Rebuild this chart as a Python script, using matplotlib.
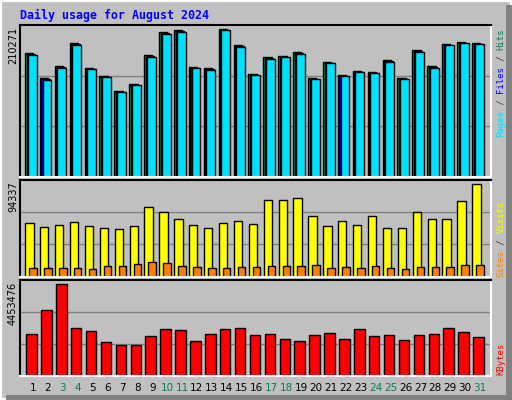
import matplotlib
matplotlib.use('Agg')
import matplotlib.pyplot as plt
from matplotlib.patches import Rectangle
import numpy as np

days = list(range(1, 32))
weekend_days = [3, 4, 10, 11, 17, 18, 24, 25, 31]

hits = [175970, 140320, 157430, 190230, 154580, 143170, 122210, 131760, 173120, 205910,
        208770, 156000, 154580, 210271, 187380, 146020, 170260, 171690, 177390, 140320,
        163130, 144600, 150300, 148870, 165990, 140320, 180250, 157430, 188800, 191650, 190230]
files = [175970 - 1500, 140320 - 1500, 157430 - 1500, 190230 - 1500, 154580 - 1500,
         143170 - 1500, 122210 - 1500, 131760 - 1500, 173120 - 1500, 205910 - 1500,
         208770 - 1500, 156000 - 1500, 154580 - 1500, 210271 - 1500, 187380 - 1500,
         146020 - 1500, 170260 - 1500, 171690 - 1500, 177390 - 1500, 140320 - 1500,
         163130 - 1500, 144600 - 1500, 150300 - 1500, 148870 - 1500, 165990 - 1500,
         140320 - 1500, 180250 - 1500, 157430 - 1500, 188800 - 1500, 191650 - 1500, 190230 - 1500]
pages = [173100, 137500, 154600, 187400, 153100, 141700, 120800, 130300, 170300, 203100,
         205900, 154600, 151700, 208900, 184500, 144600, 167400, 170300, 174600, 138900,
         161700, 143200, 148900, 147400, 163100, 138900, 177400, 154600, 187400, 190200, 188800]
visits = [54520, 50440, 52480, 55540, 51460, 49420, 48400, 51460, 70860, 65750,
          58610, 52480, 49420, 54520, 56560, 53500, 78000, 78000, 80050, 61670,
          51460, 56560, 52480, 61670, 49420, 49420, 65750, 58610, 58610, 76980, 94337]
sites = [8580, 8580, 8580, 8580, 7560, 10620, 10620, 12660, 14700, 13680,
         10620, 9600, 8580, 8580, 9600, 9600, 10620, 10620, 10620, 11640,
         8580, 9600, 8580, 10620, 8580, 7560, 9600, 9600, 9600, 11640, 11640]
kbytes = [2017000, 3187000, 4453476, 2310000, 2164000, 1628000, 1481000, 1481000, 1920000, 2261000,
          2212000, 1676000, 2017000, 2261000, 2310000, 1969000, 2017000, 1774000, 1676000, 1969000,
          2066000, 1774000, 2261000, 1920000, 1969000, 1725000, 1969000, 2017000, 2310000, 2115000, 1871000]

W, H = 512, 400
BG = '#c0c0c0'
fig = plt.figure(figsize=(W / 100, H / 100), dpi=100, facecolor=BG)

# 3d-ish frame around the image
fig.patches.append(Rectangle((0, 0), 1, 1, transform=fig.transFigure, fill=False,
                             edgecolor='white', lw=3))
fig.patches.append(Rectangle((0.012, 0), 0.988, 0.012, transform=fig.transFigure,
                             color='#808080', lw=0))
fig.patches.append(Rectangle((0.988, 0), 0.012, 0.988, transform=fig.transFigure,
                             color='#808080', lw=0))


def px_axes(x0, y0, x1, y1):
    return fig.add_axes([x0 / W, 1 - y1 / H, (x1 - x0) / W, (y1 - y0) / H])


x = np.array(days)
xlim = (0.128, 31.72)


def setup(ax, top):
    ax.set_facecolor(BG)
    ax.set_xlim(*xlim)
    ax.set_ylim(0, top)
    for y in (top / 3, 2 * top / 3):
        ax.axhline(y, color='#808080', lw=1, zorder=0)
    ax.set_xticks([])
    ax.set_yticks([])
    ax.spines['top'].set_color('black')
    ax.spines['left'].set_color('black')
    ax.spines['bottom'].set_color('white')
    ax.spines['right'].set_color('white')
    for s in ax.spines.values():
        s.set_linewidth(1.5)


ax1 = px_axes(20, 25.3, 490.7, 176.7)
setup(ax1, max(hits) / 0.974)
ax1.bar(x - 0.54, hits, width=0.56, align='edge', color='#00805c', edgecolor='black', lw=1)
ax1.bar(x - 0.43, files, width=0.56, align='edge', color='#0000ff', edgecolor='black', lw=1)
ax1.bar(x - 0.36, pages, width=0.6, align='edge', color='#00e0ff', edgecolor='black', lw=1)

ax2 = px_axes(20, 180, 490.7, 276.7)
setup(ax2, max(visits) / 0.955)
ax2.bar(x - 0.52, visits, width=0.56, align='edge', color='#ffff00', edgecolor='black', lw=1)
ax2.bar(x - 0.25, sites, width=0.5, align='edge', color='#ff8000', edgecolor='black', lw=1)

ax3 = px_axes(20, 280.3, 490.7, 375.7)
setup(ax3, max(kbytes) / 0.958)
ax3.bar(x - 0.45, kbytes, width=0.7, align='edge', color='#ff0000', edgecolor='black', lw=1)


def ftext(px, py, s, **kw):
    return fig.text(px / W, 1 - py / H, s, **kw)


ftext(20, 15, 'Daily usage for August 2024', color='#0000ff', family='DejaVu Sans Mono',
      weight='bold', fontsize=8.4, va='center', ha='left')

ftext(13, 27, str(max(hits)), rotation=90, fontsize=7, va='top', ha='center')
ftext(13, 181, str(max(visits)), rotation=90, fontsize=7, va='top', ha='center')
ftext(13, 282, str(max(kbytes)), rotation=90, fontsize=7, va='top', ha='center')

for d in days:
    col = '#00805c' if d in weekend_days else 'black'
    xp = 33 + (d - 1) * 14.9
    ftext(xp, 388, str(d), color=col, fontsize=7.5, ha='center', va='center')


def side_label(start_y, parts):
    cw = 5.45
    y = start_y
    for s, col in parts:
        ftext(501, y, s, color=col, rotation=90, rotation_mode='anchor',
              family='DejaVu Sans Mono', fontsize=6.5, ha='left', va='center')
        y -= cw * len(s)


side_label(137, [('Pages', '#00e0ff'), (' / ', '#404040'), ('Files', '#0000ff'),
                 (' / ', '#404040'), ('Hits', '#00805c')])
side_label(277, [('Sites', '#ff8000'), (' / ', '#404040'), ('Visits', '#ffff00')])
side_label(375, [('KBytes', '#ff0000')])

fig.savefig('out.png', dpi=100, facecolor=BG)
